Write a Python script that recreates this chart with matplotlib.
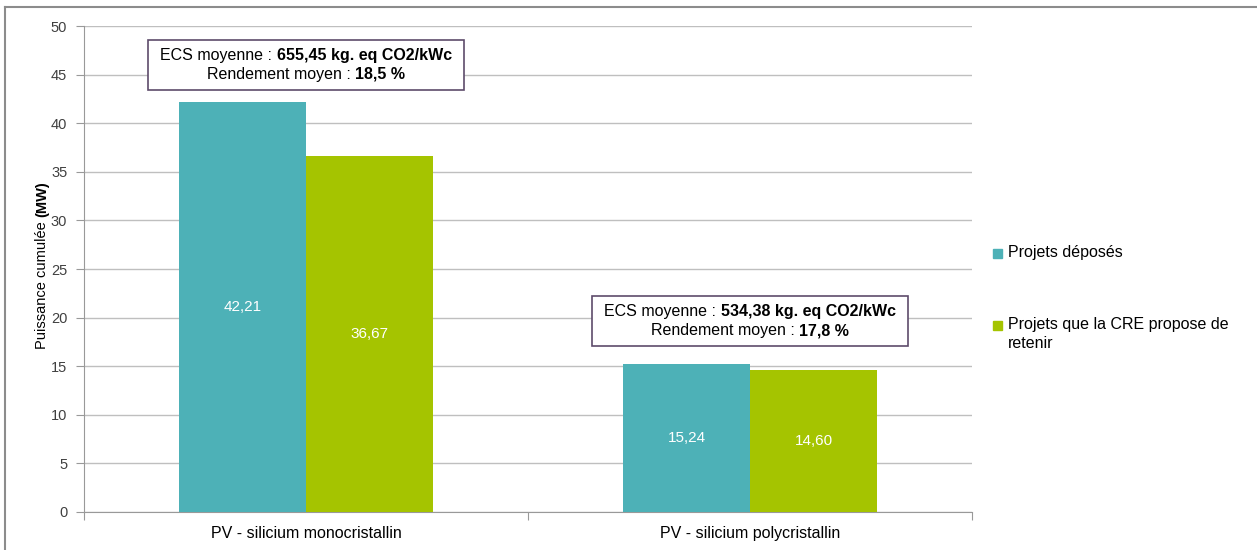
import matplotlib.pyplot as plt
from matplotlib.patches import Rectangle
from matplotlib.lines import Line2D
import numpy as np

plt.rcParams['font.family'] = 'Liberation Sans'

# Data
categories = ["PV - silicium monocristallin", "PV - silicium polycristallin"]
series_names = ["Projets déposés", "Projets que la CRE propose de\nretenir"]
deposes = [42.21, 15.24]
retenus = [36.67, 14.60]
ecs = ["655,45 kg. eq CO2/kWc", "534,38 kg. eq CO2/kWc"]
rendement = ["18,5 %", "17,8 %"]

teal = "#4db1b7"
green = "#a5c400"
grid_col = "#bfbfbf"
W, H = 1257, 550

fig = plt.figure(figsize=(12.57, 5.5), dpi=100)
ax = fig.add_axes([0.0668, 0.0691, 0.7065, 0.8836])

x = np.arange(len(categories))
w = 0.286
b1 = ax.bar(x - w / 2, deposes, w, color=teal, zorder=3)
b2 = ax.bar(x + w / 2, retenus, w, color=green, zorder=3)

for bars, vals in [(b1, deposes), (b2, retenus)]:
    for bar, v in zip(bars, vals):
        ax.text(bar.get_x() + bar.get_width() / 2, v / 2, f"{v:.2f}".replace(".", ","),
                ha="center", va="center", color="white", fontsize=11, zorder=4)

ax.set_xlim(-0.5, 1.5)
ax.set_ylim(0, 50)
ax.set_yticks(range(0, 51, 5))
ax.yaxis.grid(True, color=grid_col, lw=1, zorder=0)
ax.set_xticks([-0.5, 0.5, 1.5])
ax.set_xticklabels([])
ax.set_xticks(x, minor=True)
ax.set_xticklabels(categories, minor=True, fontsize=11.5)
ax.tick_params(axis="x", which="minor", length=0, pad=10)
ax.tick_params(axis="x", which="major", length=6, color="#999999")
ax.tick_params(axis="y", length=6, color="#999999", labelsize=10.5, labelcolor="#404040", pad=6)
for s in ["top", "right"]:
    ax.spines[s].set_visible(False)
for s in ["left", "bottom"]:
    ax.spines[s].set_color("#999999")

renderer = fig.canvas.get_renderer()


def text_w(s, weight, size):
    # width in pixels of a piece of text
    t = fig.text(0, 0, s, fontsize=size, fontweight=weight)
    wd = t.get_window_extent(renderer).width
    t.remove()
    return wd


# y label with bold unit
h_reg = text_w("Puissance cumulée ", "normal", 10.5)
h_bold = text_w("(MW)", "bold", 10.5)
y0 = 1 - (265 + (h_reg + h_bold) / 2) / H
fig.text(42 / W, y0, "Puissance cumulée ", rotation=90, ha="center", va="bottom",
         fontsize=10.5)
fig.text(42 / W, y0 + h_reg / H, "(MW)", rotation=90, ha="center", va="bottom",
         fontsize=10.5, fontweight="bold")

# annotation boxes (centre in data coords)
box_y = [46.0, 19.6]
fs = 11.5
for i in range(len(categories)):
    cx, cy = ax.transData.transform((x[i], box_y[i]))
    lines = [("ECS moyenne : ", ecs[i]), ("Rendement moyen : ", rendement[i])]
    widths = []
    for k, (reg, bold) in enumerate(lines):
        wr = text_w(reg, "normal", fs)
        wb = text_w(bold, "bold", fs)
        widths.append(wr + wb)
        start = cx - (wr + wb) / 2
        ly = cy + 9.5 - 19 * k
        fig.text(start / W, ly / H, reg, ha="left", va="center", fontsize=fs, zorder=6)
        fig.text((start + wr) / W, ly / H, bold, ha="left", va="center", fontsize=fs,
                 fontweight="bold", zorder=6)
    bw = max(widths) + 24
    bh = 50
    fig.patches.append(Rectangle(((cx - bw / 2) / W, (cy - bh / 2) / H), bw / W, bh / H,
                                 transform=fig.transFigure, fc="white", ec="#5d4b6b",
                                 lw=1.2, zorder=5))

# legend drawn by hand
leg_colors = [teal, green]
leg_y = [253, 325]
for c, name, yy in zip(leg_colors, series_names, leg_y):
    fy = 1 - yy / H
    fig.patches.append(Rectangle((993 / W, fy - 4.5 / H), 9 / W, 9 / H,
                                 transform=fig.transFigure, color=c))
    fig.text(1008 / W, fy + 8 / H, name, ha="left", va="top", fontsize=11.5,
             linespacing=1.35)

# outer frame (left and top only)
fig.add_artist(Line2D([5 / W, 5 / W], [0, 1 - 7 / H], transform=fig.transFigure,
                      color="#8c8c8c", lw=1.5))
fig.add_artist(Line2D([5 / W, 1], [1 - 7 / H, 1 - 7 / H], transform=fig.transFigure,
                      color="#8c8c8c", lw=1.5))

fig.savefig("out.png", dpi=100)
